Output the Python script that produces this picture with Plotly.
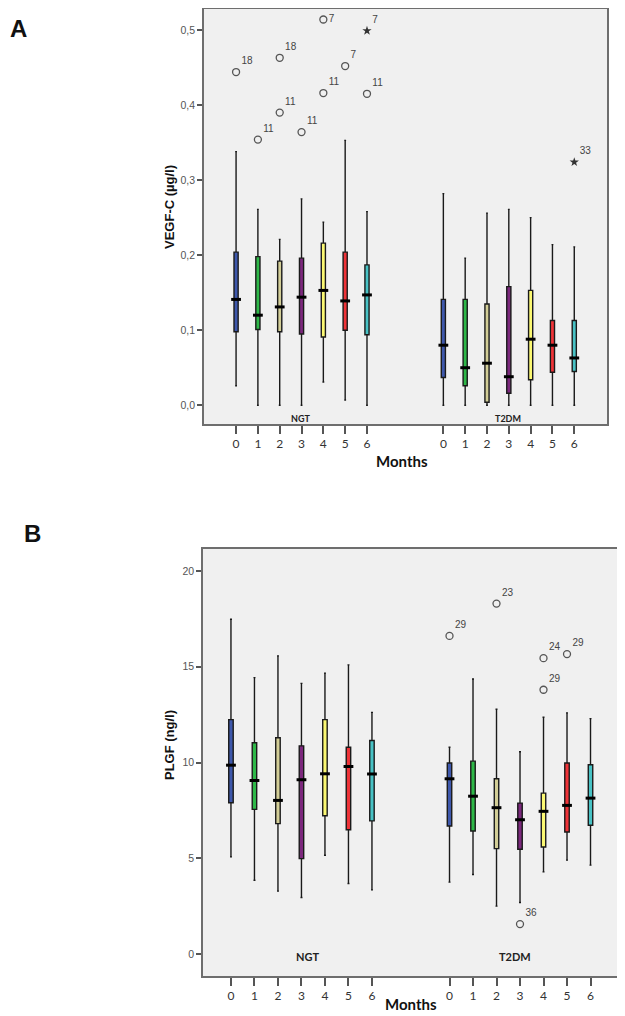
import plotly.graph_objects as go

MONTHS = ["0", "1", "2", "3", "4", "5", "6"]
COLORS = ["#3E58AC", "#2EB848", "#D3CE97", "#7C287D", "#FBF873", "#EF3338", "#48C2C5"]

# Panel A: VEGF-C (µg/l)
VEGF_NGT_MIN = [0.026, 0.0, 0.0, 0.0, 0.031, 0.007, 0.0]
VEGF_NGT_Q1 = [0.098, 0.101, 0.098, 0.095, 0.091, 0.100, 0.094]
VEGF_NGT_MED = [0.141, 0.120, 0.131, 0.144, 0.153, 0.139, 0.147]
VEGF_NGT_Q3 = [0.204, 0.198, 0.192, 0.196, 0.216, 0.204, 0.187]
VEGF_NGT_MAX = [0.338, 0.261, 0.221, 0.275, 0.244, 0.353, 0.258]

VEGF_T2DM_MIN = [0.0, 0.0, 0.0, 0.0, 0.0, 0.0, 0.0]
VEGF_T2DM_Q1 = [0.037, 0.026, 0.004, 0.016, 0.034, 0.044, 0.045]
VEGF_T2DM_MED = [0.080, 0.050, 0.056, 0.038, 0.088, 0.080, 0.063]
VEGF_T2DM_Q3 = [0.141, 0.141, 0.135, 0.158, 0.153, 0.113, 0.113]
VEGF_T2DM_MAX = [0.282, 0.196, 0.256, 0.261, 0.250, 0.214, 0.211]

VEGF_OUT_GROUP = ["NGT", "NGT", "NGT", "NGT", "NGT", "NGT", "NGT", "NGT", "NGT", "NGT", "T2DM"]
VEGF_OUT_MONTH = [0, 1, 2, 2, 3, 4, 4, 5, 6, 6, 6]
VEGF_OUT_VALUE = [0.444, 0.354, 0.463, 0.390, 0.364, 0.514, 0.416, 0.452, 0.415, 0.499, 0.324]
VEGF_OUT_LABEL = ["18", "11", "18", "11", "11", "7", "11", "7", "11", "7", "33"]
VEGF_OUT_EXTREME = [False, False, False, False, False, False, False, False, False, True, True]

# Panel B: PLGF (ng/l)
PLGF_NGT_MIN = [5.07, 3.85, 3.28, 2.95, 5.16, 3.68, 3.35]
PLGF_NGT_Q1 = [7.90, 7.55, 6.81, 4.98, 7.22, 6.49, 6.95]
PLGF_NGT_MED = [9.86, 9.06, 8.02, 9.10, 9.41, 9.79, 9.40]
PLGF_NGT_Q3 = [12.24, 11.03, 11.29, 10.87, 12.24, 10.80, 11.15]
PLGF_NGT_MAX = [17.48, 14.43, 15.57, 14.13, 14.67, 15.10, 12.62]

PLGF_T2DM_MIN = [3.75, 4.15, 2.50, 2.69, 4.29, 4.90, 4.64]
PLGF_T2DM_Q1 = [6.68, 6.42, 5.50, 5.47, 5.59, 6.37, 6.72]
PLGF_T2DM_MED = [9.15, 8.24, 7.64, 7.01, 7.45, 7.76, 8.14]
PLGF_T2DM_Q3 = [9.97, 10.07, 9.15, 7.88, 8.40, 9.97, 9.88]
PLGF_T2DM_MAX = [10.80, 14.36, 12.78, 10.56, 12.36, 12.59, 12.29]

PLGF_OUT_GROUP = ["T2DM", "T2DM", "T2DM", "T2DM", "T2DM", "T2DM"]
PLGF_OUT_MONTH = [0, 2, 3, 4, 4, 5]
PLGF_OUT_VALUE = [16.61, 18.30, 1.56, 15.45, 13.80, 15.66]
PLGF_OUT_LABEL = ["29", "23", "36", "24", "29", "29"]
PLGF_OUT_EXTREME = [False, False, False, False, False, False]

GROUP_OFFSET_A = 9.5
GROUP_OFFSET_B = 9.3

# page body has an 8px default margin; lay out in window pixels
OFF = 8
W, H = 625 - OFF, 1016 - OFF


def px(x):
    return (x - OFF) / W


def py(y):
    return 1 - (y - OFF) / H


fig = go.Figure()


def add_panel(xa, ya, offset, ytop, stats_ngt, stats_t2dm, out):
    for grp, stats, off in (("NGT", stats_ngt, 0.0), ("T2DM", stats_t2dm, offset)):
        mn, q1, med, q3, mx = stats
        for i in range(len(MONTHS)):
            fig.add_trace(go.Box(
                x=[i + off], q1=[q1[i]], median=[med[i]], q3=[q3[i]],
                lowerfence=[mn[i]], upperfence=[mx[i]],
                width=0.19, whiskerwidth=0.45,
                fillcolor=COLORS[i], line=dict(color="#1a1a1a", width=1.4),
                boxpoints=False, showlegend=False, hoverinfo="skip",
                xaxis=xa, yaxis=ya,
            ))
        fig.add_trace(go.Scatter(
            x=[i + off for i in range(len(MONTHS))], y=med, mode="markers",
            marker=dict(symbol="line-ew", size=7, line=dict(width=3, color="#000000")),
            showlegend=False, hoverinfo="skip", xaxis=xa, yaxis=ya,
        ))
    g, m, v, lab, ext = out
    for extreme in (False, True):
        idx = [k for k in range(len(v)) if ext[k] == extreme]
        if not idx:
            continue
        xs = [m[k] + (offset if g[k] == "T2DM" else 0) for k in idx]
        ys = [v[k] for k in idx]
        ts = [lab[k] for k in idx]
        pos = ["middle right" if y > ytop else "top right" for y in ys]
        fig.add_trace(go.Scatter(
            x=xs, y=ys, text=ts, mode="markers+text", textposition=pos,
            textfont=dict(family="Liberation Sans", size=10, color="#444444"),
            marker=dict(symbol="star" if extreme else "circle-open", size=7,
                        color="#333333" if extreme else "#555555",
                        line=dict(width=1.3, color="#555555") if not extreme else dict(width=0)),
            cliponaxis=False,
            showlegend=False, hoverinfo="skip", xaxis=xa, yaxis=ya,
        ))


add_panel("x", "y", GROUP_OFFSET_A, 0.505,
          (VEGF_NGT_MIN, VEGF_NGT_Q1, VEGF_NGT_MED, VEGF_NGT_Q3, VEGF_NGT_MAX),
          (VEGF_T2DM_MIN, VEGF_T2DM_Q1, VEGF_T2DM_MED, VEGF_T2DM_Q3, VEGF_T2DM_MAX),
          (VEGF_OUT_GROUP, VEGF_OUT_MONTH, VEGF_OUT_VALUE, VEGF_OUT_LABEL, VEGF_OUT_EXTREME))
add_panel("x2", "y2", GROUP_OFFSET_B, 30,
          (PLGF_NGT_MIN, PLGF_NGT_Q1, PLGF_NGT_MED, PLGF_NGT_Q3, PLGF_NGT_MAX),
          (PLGF_T2DM_MIN, PLGF_T2DM_Q1, PLGF_T2DM_MED, PLGF_T2DM_Q3, PLGF_T2DM_MAX),
          (PLGF_OUT_GROUP, PLGF_OUT_MONTH, PLGF_OUT_VALUE, PLGF_OUT_LABEL, PLGF_OUT_EXTREME))

frame = dict(showline=True, linecolor="#6e6e6e", linewidth=1.5, mirror=True,
             showgrid=False, zeroline=False, automargin=False)
xtickfont = dict(family="Lato", size=12, color="#333333")
ytickfont = dict(family="Liberation Sans", size=10.5, color="#555555")

xa_vals = [i for i in range(7)] + [i + GROUP_OFFSET_A for i in range(7)]
xb_vals = [i for i in range(7)] + [i + GROUP_OFFSET_B for i in range(7)]

fig.update_layout(
    width=W, height=H, margin=dict(l=0, r=0, t=0, b=0),
    paper_bgcolor="white", plot_bgcolor="#F0F0F0", boxmode="overlay",
    xaxis=dict(domain=[px(204), px(607)], range=[-1.47, 17.0], anchor="y",
               tickmode="array", tickvals=xa_vals, ticktext=MONTHS + MONTHS,
               ticks="outside", ticklen=8, tickwidth=1.5, tickcolor="#555555",
               tickfont=xtickfont, **frame),
    yaxis=dict(domain=[py(424), py(9)], range=[-0.025, 0.528], anchor="x",
               tickmode="array", tickvals=[0, 0.1, 0.2, 0.3, 0.4, 0.5],
               ticktext=["0,0", "0,1", "0,2", "0,3", "0,4", "0,5"],
               ticks="outside", ticklen=5, tickwidth=1.5, tickcolor="#555555",
               tickfont=ytickfont, **frame),
    xaxis2=dict(domain=[px(203), px(618)], range=[-1.19, 16.47], anchor="y2",
                tickmode="array", tickvals=xb_vals, ticktext=MONTHS + MONTHS,
                ticks="outside", ticklen=8, tickwidth=1.5, tickcolor="#555555",
                tickfont=xtickfont, **frame),
    yaxis2=dict(domain=[py(976), py(549)], range=[-1.15, 21.15], anchor="x2",
                tickmode="array", tickvals=[0, 5, 10, 15, 20],
                ticktext=["0", "5", "10", "15", "20"],
                ticks="outside", ticklen=5, tickwidth=1.5, tickcolor="#555555",
                tickfont=ytickfont, **frame),
)

C = dict(xref="paper", yref="paper", xanchor="center", yanchor="middle", showarrow=False)
ann = [
    dict(text="<b>A</b>", x=px(18), y=py(28),
         font=dict(family="Liberation Sans", size=24, color="#111111"), **C),
    dict(text="<b>B</b>", x=px(32), y=py(533),
         font=dict(family="Liberation Sans", size=24, color="#111111"), **C),
    dict(text="<b>VEGF-C (µg/l)</b>", x=px(170), y=py(207), textangle=-90,
         font=dict(family="Liberation Sans", size=13, color="#111111"), **C),
    dict(text="<b>PLGF (ng/l)</b>", x=px(169), y=py(745), textangle=-90,
         font=dict(family="Liberation Sans", size=13, color="#111111"), **C),
    dict(text="<b>Months</b>", x=px(402), y=py(461),
         font=dict(family="Lato", size=15, color="#111111"), **C),
    dict(text="<b>Months</b>", x=px(411), y=py(1004),
         font=dict(family="Lato", size=15, color="#111111"), **C),
    dict(text="<b>NGT</b>", x=px(300), y=py(418),
         font=dict(family="Lato", size=9, color="#222222"), **C),
    dict(text="<b>T2DM</b>", x=px(508), y=py(418),
         font=dict(family="Lato", size=9, color="#222222"), **C),
    dict(text="<b>NGT</b>", x=px(307), y=py(956),
         font=dict(family="Lato", size=11, color="#222222"), **C),
    dict(text="<b>T2DM</b>", x=px(515), y=py(956),
         font=dict(family="Lato", size=11, color="#222222"), **C),
]
fig.update_layout(annotations=ann)

fig.write_html("out.html")
